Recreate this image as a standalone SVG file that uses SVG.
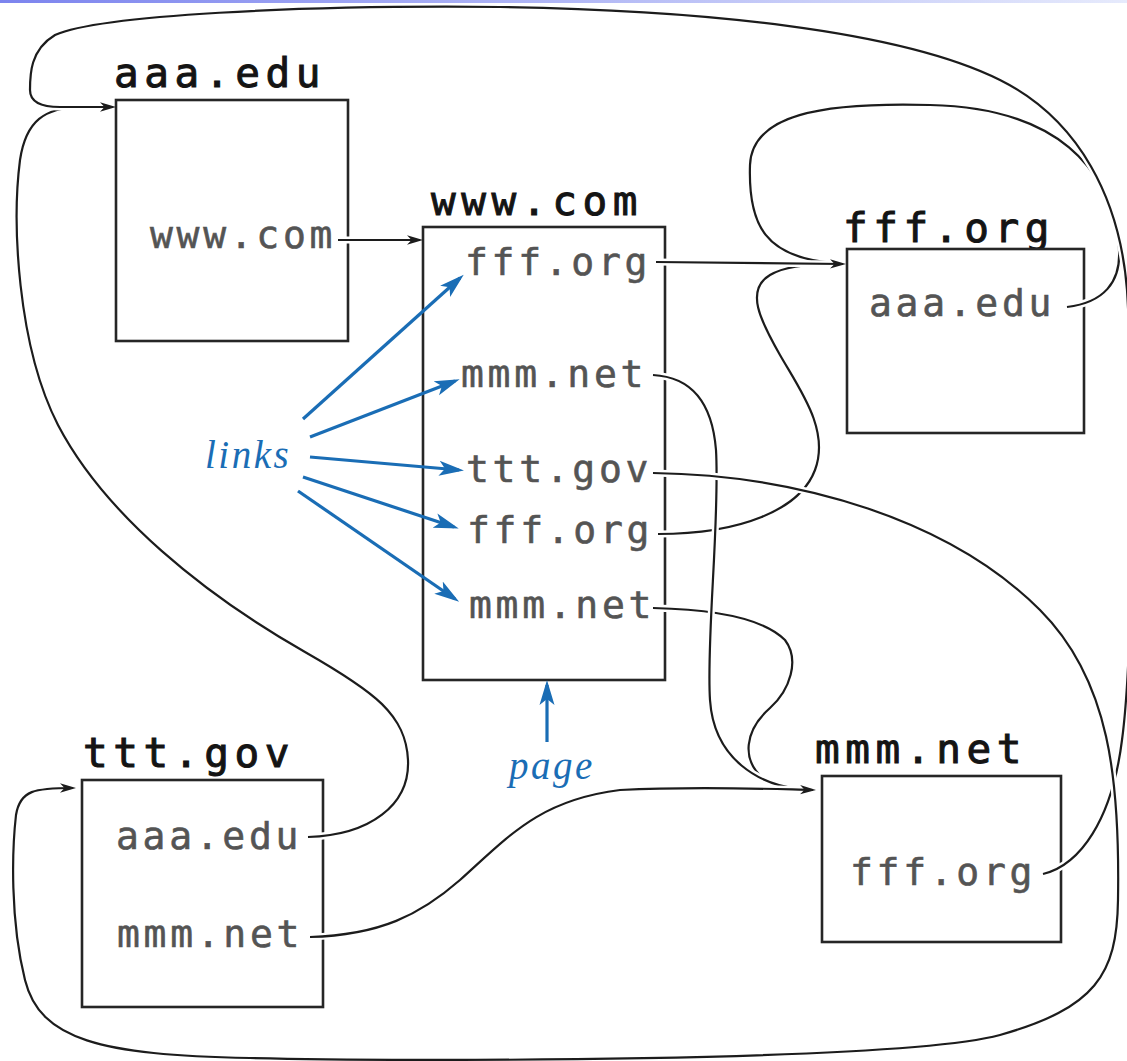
<svg xmlns="http://www.w3.org/2000/svg" width="1127" height="1061" viewBox="0 0 1127 1061">
<style>
.box{fill:#fff;stroke:#262626;stroke-width:2.6}
.title{font-family:"DejaVu Sans Mono",monospace;font-size:41px;letter-spacing:5.6px;fill:#141414;stroke:#141414;stroke-width:1}
.link{font-family:"DejaVu Sans Mono",monospace;font-size:38px;letter-spacing:3.7px;fill:#545454;stroke:#545454;stroke-width:0.6}
.halo{fill:none;stroke:#fff;stroke-width:7;stroke-linecap:butt}
.wire{fill:none;stroke:#1c1c1c;stroke-width:2.2}
.arr{marker-end:url(#ah)}
.blue{fill:none;stroke:#1a6db5;stroke-width:3.2;marker-end:url(#bh)}
.note{font-family:"Liberation Serif",serif;font-style:italic;font-size:39px;letter-spacing:2.5px;fill:#1a6db5}
</style>
<defs>
<linearGradient id="topbar" x1="0" y1="0" x2="1" y2="0">
<stop offset="0" stop-color="#7c84ee"/>
<stop offset="1" stop-color="#e6eafc"/>
</linearGradient>
<marker id="ah" markerUnits="userSpaceOnUse" markerWidth="17" markerHeight="12" viewBox="0 0 17 10" refX="13" refY="5" orient="auto">
<path d="M0,0.3 L16,5 L0,9.7 L4.5,5 z" fill="#1c1c1c"/>
</marker>
<marker id="bh" markerUnits="userSpaceOnUse" markerWidth="26" markerHeight="18" viewBox="0 0 26 16" refX="20" refY="8" orient="auto">
<path d="M0,0.5 L25,8 L0,15.5 L6,8 z" fill="#1a6db5"/>
</marker>
</defs>
<rect x="0" y="0" width="1127" height="3" fill="url(#topbar)"/>

<g id="node-aaa">
<text class="title" x="114" y="87">aaa.edu</text>
<rect class="box" x="116" y="100" width="232" height="241"/>
<text class="link" x="150" y="248">www.com</text>
</g>
<g id="node-www">
<text class="title" x="431" y="215">www.com</text>
<rect class="box" x="423" y="227" width="242" height="453"/>
<text class="link" x="465" y="275">fff.org</text>
<text class="link" x="461" y="387">mmm.net</text>
<text class="link" x="466" y="482">ttt.gov</text>
<text class="link" x="467" y="543">fff.org</text>
<text class="link" x="469" y="618">mmm.net</text>
</g>
<g id="node-fff">
<text class="title" x="843" y="242">fff.org</text>
<rect class="box" x="847" y="249" width="237" height="184"/>
<text class="link" x="869" y="316">aaa.edu</text>
</g>
<g id="node-ttt">
<text class="title" x="83" y="767">ttt.gov</text>
<rect class="box" x="82" y="780" width="241" height="227"/>
<text class="link" x="116" y="849">aaa.edu</text>
<text class="link" x="117" y="947">mmm.net</text>
</g>
<g id="node-mmm">
<text class="title" x="815" y="763">mmm.net</text>
<rect class="box" x="822" y="776" width="239" height="166"/>
<text class="link" x="850" y="885">fff.org</text>
</g>

<g id="connectors">
<!-- aaa.edu: www.com -> www.com -->
<path class="halo" d="M338,240 H420"/>
<path class="wire arr" d="M338,240 H420"/>
<!-- fff.org: aaa.edu -> fff.org (loop over top) -->
<path class="halo" d="M1067,307 C1100,303 1125,285 1118,240 C1108,170 1060,108 930,105 C820,102 752,115 750,165 C748,225 765,258 835,263"/>
<path class="wire" d="M1067,307 C1100,303 1125,285 1118,240 C1108,170 1060,108 930,105 C820,102 752,115 750,165 C748,225 765,258 835,263"/>
<!-- ttt.gov: aaa.edu -> aaa.edu -->
<path class="halo" d="M308,837 C370,835 410,805 408,760 C406,715 375,692 305,652 C205,595 105,515 58,425 C17,345 12,222 20,160 C26,120 45,108 80,107"/>
<path class="wire" d="M308,837 C370,835 410,805 408,760 C406,715 375,692 305,652 C205,595 105,515 58,425 C17,345 12,222 20,160 C26,120 45,108 80,107"/>
<!-- mmm.net: fff.org -> aaa.edu (big loop) -->
<path class="halo" d="M1043,874 C1080,865 1112,820 1122,740 C1134,650 1134,400 1127,290 C1120,200 1080,120 1000,80 C900,30 700,10 500,7 C300,5 100,15 55,35 C30,50 30,75 30,90 C30,102 40,107 60,107 L113,107"/>
<path class="wire arr" d="M1043,874 C1080,865 1112,820 1122,740 C1134,650 1134,400 1127,290 C1120,200 1080,120 1000,80 C900,30 700,10 500,7 C300,5 100,15 55,35 C30,50 30,75 30,90 C30,102 40,107 60,107 L113,107"/>
<!-- www.com: mmm.net (2nd) -> mmm.net -->
<path class="halo" d="M653,608 C700,609 760,615 785,640 C800,660 790,690 770,708 C745,730 740,760 765,780 C775,787 785,789 800,790"/>
<path class="wire" d="M653,608 C700,609 760,615 785,640 C800,660 790,690 770,708 C745,730 740,760 765,780 C775,787 785,789 800,790"/>
<!-- www.com: fff.org (2nd) -> fff.org -->
<path class="halo" d="M658,534 C740,534 800,510 815,470 C830,430 800,390 780,355 C760,320 745,290 770,275 C785,266 810,264 835,264"/>
<path class="wire" d="M658,534 C740,534 800,510 815,470 C830,430 800,390 780,355 C760,320 745,290 770,275 C785,266 810,264 835,264"/>
<!-- www.com: mmm.net (1st) -> mmm.net -->
<path class="halo" d="M653,375 C690,377 712,400 716,450 C720,520 706,640 710,700 C714,760 760,785 800,789"/>
<path class="wire" d="M653,375 C690,377 712,400 716,450 C720,520 706,640 710,700 C714,760 760,785 800,789"/>
<!-- www.com: ttt.gov -> ttt.gov (around right and bottom) -->
<path class="halo" d="M653,473 C800,475 950,520 1040,610 C1110,680 1120,780 1118,900 C1117,975 1095,1008 1000,1035 C900,1062 400,1062 250,1058 C100,1055 40,1040 25,980 C10,920 12,850 16,815 C20,790 35,788 73,788"/>
<path class="wire arr" d="M653,473 C800,475 950,520 1040,610 C1110,680 1120,780 1118,900 C1117,975 1095,1008 1000,1035 C900,1062 400,1062 250,1058 C100,1055 40,1040 25,980 C10,920 12,850 16,815 C20,790 35,788 73,788"/>
<!-- ttt.gov: mmm.net -> mmm.net -->
<path class="halo" d="M310,937 C380,935 420,915 460,880 C510,835 540,800 620,790 C700,786 770,789 813,790"/>
<path class="wire arr" d="M310,937 C380,935 420,915 460,880 C510,835 540,800 620,790 C700,786 770,789 813,790"/>
<!-- www.com: fff.org -> fff.org -->
<path class="halo" d="M656,262 L843,264"/>
<path class="wire arr" d="M656,262 L843,264"/>
</g>

<g id="annotations">
<text class="note" x="205" y="468">links</text>
<path class="blue" d="M303,419 L460,278"/>
<path class="blue" d="M310,437 L455,381"/>
<path class="blue" d="M310,457 L459,470"/>
<path class="blue" d="M303,477 L454,527"/>
<path class="blue" d="M298,491 L455,599"/>
<text class="note" x="509" y="779">page</text>
<path class="blue" d="M547,742 L547,685"/>
</g>
</svg>
